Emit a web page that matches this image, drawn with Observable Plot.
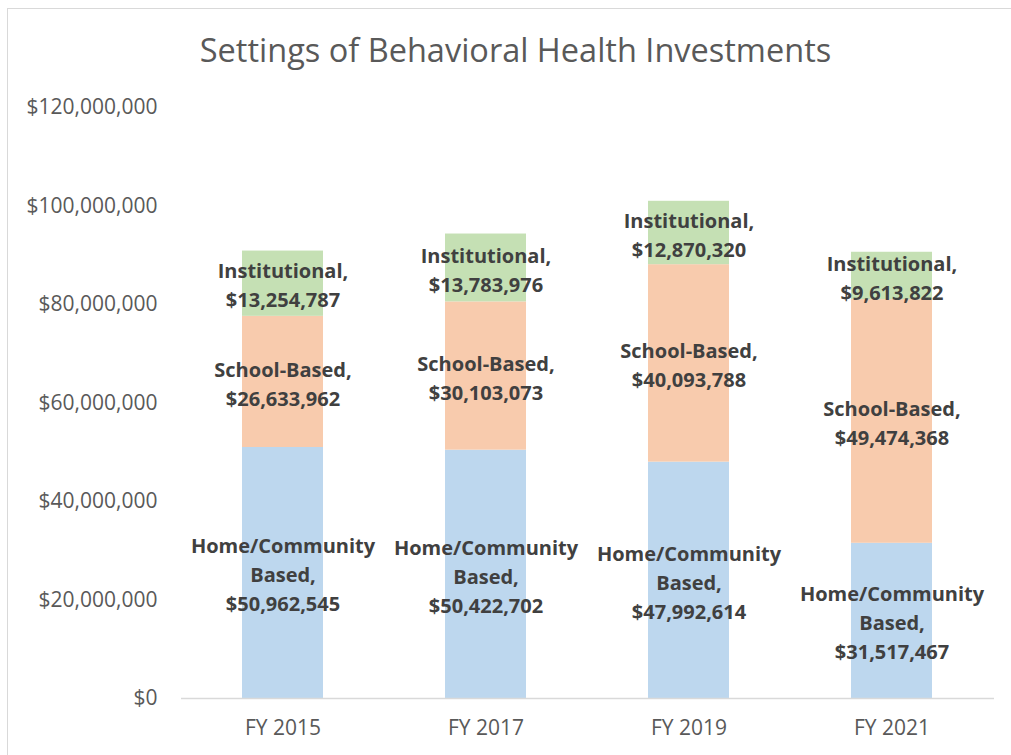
<!DOCTYPE html>
<html>
<head>
<meta charset="utf-8">
<script src="https://cdn.jsdelivr.net/npm/d3@7"></script>
<script src="https://cdn.jsdelivr.net/npm/@observablehq/plot@0.6"></script>
<style>
  html, body { margin: 0; padding: 0; background: #fff; overflow: hidden; width: 1011px; height: 755px; }
  #frame { position: absolute; left: 7px; top: 8px; width: 1100px; height: 800px;
           border-left: 1px solid #d9d9d9; border-top: 1px solid #d9d9d9; }
  #title { position: absolute; left: 0; top: 30px; width: 1031px; text-align: center;
           font-family: "Open Sans", sans-serif; font-size: 32.5px; line-height: 40px; color: #595959; }
  #chart { position: absolute; left: 0; top: 90px; }
</style>
</head>
<body>
<div id="frame"></div>
<div id="title">Settings of Behavioral Health Investments</div>
<div id="chart"></div>
<script>
const years = ["FY 2015", "FY 2017", "FY 2019", "FY 2021"];
const seriesNames = ["Home/Community Based", "School-Based", "Institutional"];
const seriesLabels = ["Home/Community\nBased,", "School-Based,", "Institutional,"];
const seriesColors = ["#bdd7ee", "#f8cbad", "#c5e0b4"];
const homeValues = [50962545, 50422702, 47992614, 31517467];
const schoolValues = [26633962, 30103073, 40093788, 49474368];
const institutionalValues = [13254787, 13783976, 12870320, 9613822];
const yTicks = [0, 20000000, 40000000, 60000000, 80000000, 100000000, 120000000];

const valueSets = [homeValues, schoolValues, institutionalValues];
const rows = [];
seriesNames.forEach((s, si) => {
  years.forEach((yr, i) => {
    rows.push({year: yr, series: s, value: valueSets[si][i], label: seriesLabels[si]});
  });
});
const money = d => "$" + d3.format(",")(d);

const plot = Plot.plot({
  width: 1011,
  height: 665,
  marginTop: 17,
  marginBottom: 57,
  marginLeft: 181,
  marginRight: 17,
  style: {fontFamily: "Open Sans, sans-serif", fontSize: "21px", color: "#595959", background: "transparent", overflow: "visible"},
  x: {domain: years, paddingInner: 0.6, paddingOuter: 0.3, label: null},
  y: {domain: [0, 120000000], label: null},
  color: {domain: seriesNames, range: seriesColors},
  marks: [
    Plot.barY(rows, {x: "year", y: "value", fill: "series", order: seriesNames}),
    Plot.ruleY([0], {stroke: "#d9d9d9", strokeWidth: 1.5}),
    Plot.axisY({ticks: yTicks, tickFormat: money, tickSize: 0, tickPadding: 24, fontSize: 21, label: null}),
    Plot.axisX({tickSize: 0, tickPadding: 22, fontSize: 21, label: null}),
    Plot.text(rows, Plot.stackY({
      x: "year", y: "value", z: "series", order: seriesNames,
      text: d => d.label + "\n" + money(d.value),
      fill: "#404040", fontWeight: "bold", fontSize: 20, lineHeight: 1.45
    }))
  ]
});
document.getElementById("chart").appendChild(plot);
</script>
</body>
</html>
